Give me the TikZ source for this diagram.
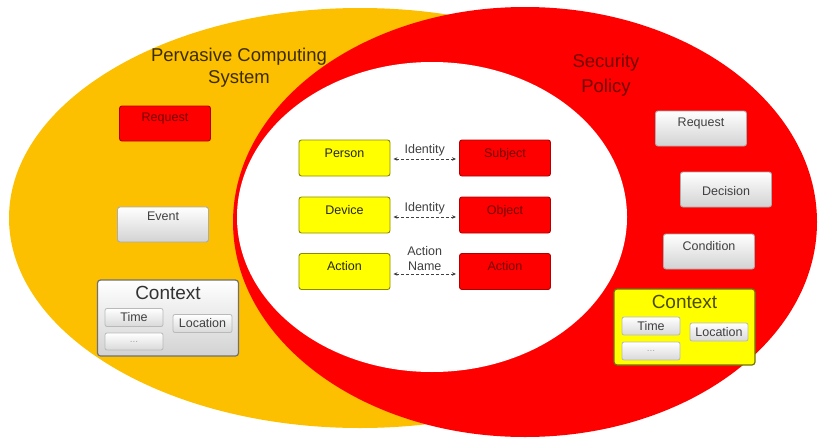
\documentclass[tikz,border=0pt]{standalone}
\usepackage{fontspec}
\setmainfont{Liberation Sans}
\usetikzlibrary{arrows.meta}
\definecolor{orng}{RGB}{252,192,0}
\definecolor{rd}{RGB}{255,0,0}
\definecolor{ylw}{RGB}{255,255,0}
\definecolor{ttlA}{RGB}{60,45,0}
\definecolor{ttlB}{RGB}{115,0,0}
\begin{document}
\begin{tikzpicture}[x=1pt,y=-1pt,
  cell/.style={rounded corners=2.5pt, minimum width=91pt, inner ysep=2pt, inner xsep=1pt,
    text height=15pt, text depth=17pt, font=\fontsize{12.5}{14}\selectfont, line width=0.9pt},
  yel/.style={cell, fill=ylw, draw=ylw!55!black, text=black!85},
  red/.style={cell, fill=rd, draw=rd!70!black, text=rd!45!black},
  gry/.style={cell, top color=white, bottom color=gray!35, draw=gray!65, text=black!75},
  ctx/.style={rounded corners=3pt, minimum width=141pt, inner ysep=1pt, text height=18pt, text depth=56pt,
    font=\fontsize{19}{20}\selectfont, line width=1.2pt},
  small/.style={rounded corners=2pt, minimum width=58pt, minimum height=18pt, inner sep=0.5pt,
    top color=white, bottom color=gray!30, draw=gray!55, line width=0.8pt,
    font=\fontsize{12.5}{13}\selectfont, text=black!75},
  link/.style={{Stealth[length=4pt,width=3.5pt]}-{Stealth[length=4pt,width=3.5pt]}, dashed,
    dash pattern=on 3pt off 2pt, draw=black!75, line width=0.8pt, shorten <=3pt, shorten >=3pt},
  lbl/.style={font=\fontsize{12.5}{15}\selectfont, text=black!75, align=center, inner sep=1pt},
  ttl/.style={font=\fontsize{18.5}{22}\selectfont, align=center}]
\useasboundingbox (0,0) rectangle (827,439);
\fill[white] (0,0) rectangle (827,439);
% regions
\fill[orng] (360,218) ellipse [x radius=351, y radius=210];
\fill[rd] (525,222) ellipse [x radius=292, y radius=215];
\fill[white] (432,217) ellipse [x radius=195, y radius=155];
% titles
\node[ttl, text=ttlA] (tA) at (239,68) {Pervasive Computing\\System};
\node[ttl, text=ttlB, font=\fontsize{18.5}{25}\selectfont] (tB) at (606,75) {Security\\Policy};
% left region
\node[red, text height=13pt, text depth=18pt] (reqL) at (165,123.5) {Request};
\node[gry, text height=11pt, text depth=20pt] (event) at (163,224.5) {Event};
\node[ctx, top color=white, bottom color=gray!35, draw=gray!60!black!80, text=black!80] (ctxL) at (168,318) {Context};
\node[small] (timeL) at (134,317.5) {Time};
\node[small, minimum width=59pt] (locL) at (202.5,323.5) {Location};
\node[small, minimum height=17pt, text=gray!70, font=\fontsize{10}{10}\selectfont] (dotsL) at (134,341.5) {...};
% center
\node[yel] (person) at (344.5,158) {Person};
\node[yel] (device) at (344.5,215) {Device};
\node[yel] (actionL) at (344.5,271.5) {Action};
\node[red] (subject) at (505,158) {Subject};
\node[red] (object) at (505,215) {Object};
\node[red] (actionR) at (505,271.5) {Action};
\draw[link] ([yshift=-1pt]person.east) -- node[lbl, above=2pt] (l1) {Identity} ([yshift=-1pt]subject.west);
\draw[link] ([yshift=-2pt]device.east) -- node[lbl, above=2pt] (l2) {Identity} ([yshift=-2pt]object.west);
\draw[link] ([yshift=-2.5pt]actionL.east) -- node[lbl, above=2pt] (l3) {Action\\Name} ([yshift=-2.5pt]actionR.west);
% right region
\node[gry, text height=13pt, text depth=18pt] (reqR) at (701,128.5) {Request};
\node[gry, text height=21pt, text depth=10pt] (decision) at (726,189.5) {Decision};
\node[gry, text height=14pt, text depth=17pt] (condition) at (709,251.5) {Condition};
\node[ctx, fill=ylw, draw=ylw!45!black, text=ylw!30!black] (ctxR) at (684.5,327) {Context};
\node[small] (timeR) at (651,326) {Time};
\node[small] (locR) at (719,332) {Location};
\node[small, text=gray!70, font=\fontsize{10}{10}\selectfont] (dotsR) at (651,351) {...};
\end{tikzpicture}
\end{document}
